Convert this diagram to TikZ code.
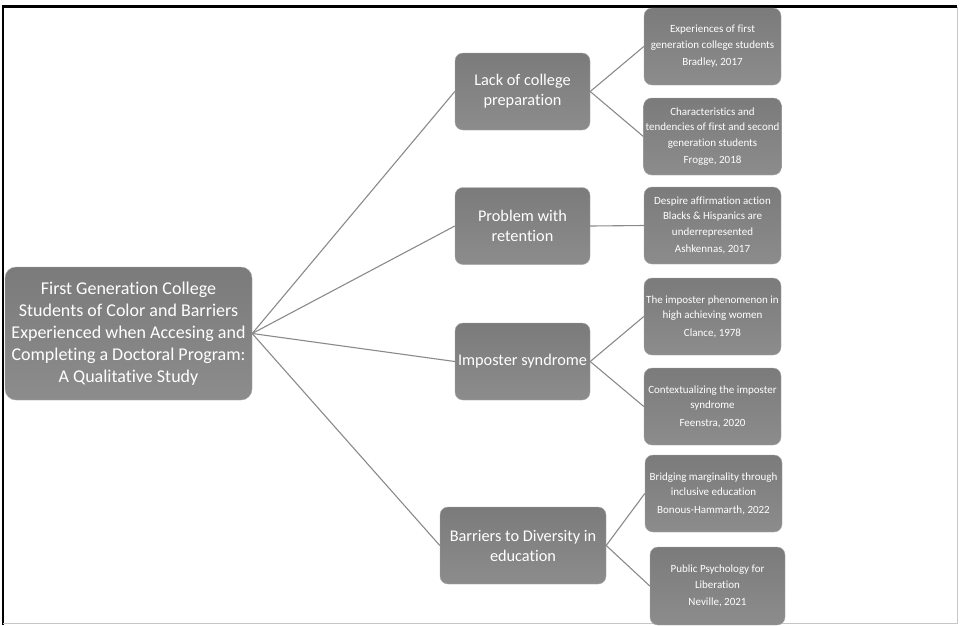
\documentclass[tikz,border=0pt]{standalone}
\usepackage{fontspec}
\setmainfont[Ligatures=NoCommon]{Carlito}
\definecolor{boxtop}{HTML}{7B7B7B}
\definecolor{boxbot}{HTML}{8C8C8C}
\definecolor{edgegray}{HTML}{8A8A8A}
\begin{document}
\begin{tikzpicture}[x=1pt,y=-1pt,
  box/.style={rounded corners=8pt, top color=boxtop, bottom color=boxbot, draw=gray!70, line width=0.4pt, text=white, align=center, inner sep=2pt, minimum width=137pt, minimum height=77pt},
  rootbox/.style={box, rounded corners=11pt, minimum width=247pt, minimum height=133pt, font=\fontsize{18}{22}\selectfont},
  midbox/.style={box, minimum width=135pt, minimum height=77pt, font=\fontsize{16.3}{20}\selectfont},
  leafbox/.style={box, minimum width=137pt, minimum height=77pt, font=\fontsize{11}{15.5}\selectfont},
  link/.style={draw=edgegray, line width=1.1pt}]
\useasboundingbox (0,0) rectangle (960,625);
\draw[black, line width=2.4pt] (3,625) -- (3,6.5) -- (957,6.5);
\draw[gray!45, line width=1pt] (3,623) -- (957,623) -- (957,6.5);

\node[rootbox] (root) at (128.5,333.5) {First Generation College\\Students of Color and Barriers\\Experienced when Accesing and\\Completing a Doctoral Program:\\A Qualitative Study};

\node[midbox] (lack) at (522.5,91.5) {Lack of college\\preparation};
\node[midbox] (ret) at (522.5,226) {Problem with\\retention};
\node[midbox] (imp) at (522.5,361.5) {Imposter syndrome};
\node[midbox, minimum width=166pt] (bar) at (523,545.5) {Barriers to Diversity in\\education};

\node[leafbox] (exp) at (712.5,46.5) {Experiences of first\\generation college students\\[2pt]Bradley, 2017};
\node[leafbox] (cha) at (712.5,136.5) {Characteristics and\\tendencies of first and second\\generation students\\[2pt]Frogge, 2018};
\node[leafbox] (desp) at (712.5,225.5) {Despire affirmation action\\Blacks \& Hispanics are\\underrepresented\\[2pt]Ashkennas, 2017};
\node[leafbox] (phen) at (712.5,316.5) {The imposter phenomenon in\\high achieving women\\[2pt]Clance, 1978};
\node[leafbox] (ctx) at (712.5,406.5) {Contextualizing the imposter\\syndrome\\[2pt]Feenstra, 2020};
\node[leafbox] (brid) at (713.5,493.5) {Bridging marginality through\\inclusive education\\[2pt]Bonous-Hammarth, 2022};
\node[leafbox, minimum width=135pt, minimum height=78pt] (pub) at (717.5,586) {Public Psychology for\\Liberation\\[2pt]Neville, 2021};

\path[link] (root.east) -- (lack.west);
\path[link] (root.east) -- (ret.west);
\path[link] (root.east) -- (imp.west);
\path[link] (root.east) -- (bar.west);
\path[link] (lack.east) -- (exp.west);
\path[link] (lack.east) -- (cha.west);
\path[link] (ret.east) -- (desp.west);
\path[link] (imp.east) -- (phen.west);
\path[link] (imp.east) -- (ctx.west);
\path[link] (bar.east) -- (brid.west);
\path[link] (bar.east) -- (pub.west);
\end{tikzpicture}
\end{document}
